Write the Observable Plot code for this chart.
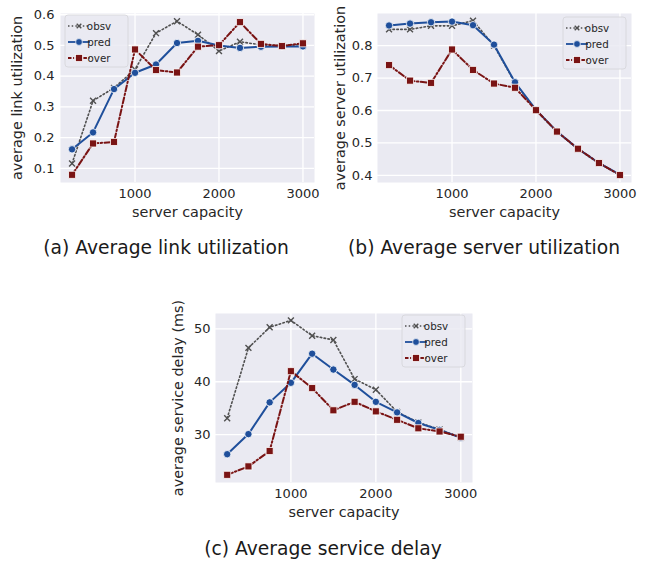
<!DOCTYPE html>
<html><head><meta charset="utf-8">
<script src="https://cdn.jsdelivr.net/npm/d3@7"></script>
<script src="https://cdn.jsdelivr.net/npm/@observablehq/plot@0.6"></script>
<style>
body{margin:0;background:#fff;width:654px;height:566px;position:relative;overflow:hidden;font-family:"DejaVu Sans",sans-serif;}
.panel{position:absolute;}
.panel svg{overflow:visible;}
.cap{position:absolute;font-size:18.7px;color:#1a1a1a;white-space:nowrap;transform:translate(-50%,-50%);}
</style></head><body>
<div id="pa" class="panel" style="left:0px;top:0px"></div>
<div id="pb" class="panel" style="left:320px;top:0px"></div>
<div id="pc" class="panel" style="left:160px;top:300px"></div>
<div class="cap" style="left:166px;top:247px">(a) Average link utilization</div>
<div class="cap" style="left:484px;top:247px">(b) Average server utilization</div>
<div class="cap" style="left:323px;top:548px">(c) Average service delay</div>
<script>
// ---- data ----
const capacity = [250, 500, 750, 1000, 1250, 1500, 1750, 2000, 2250, 2500, 2750, 3000];
const seriesNames = ["obsv", "pred", "over"];

const linkObsv = [0.116, 0.320, 0.362, 0.422, 0.540, 0.579, 0.535, 0.482, 0.512, 0.502, 0.500, 0.503];
const linkPred = [0.162, 0.217, 0.358, 0.411, 0.438, 0.508, 0.515, 0.500, 0.492, 0.496, 0.497, 0.497];
const linkOver = [0.079, 0.181, 0.186, 0.487, 0.420, 0.412, 0.496, 0.501, 0.576, 0.505, 0.498, 0.507];

const srvObsv = [0.850, 0.850, 0.861, 0.861, 0.877, 0.800, 0.685, 0.601, 0.534, 0.481, 0.437, 0.401];
const srvPred = [0.862, 0.868, 0.872, 0.874, 0.863, 0.803, 0.687, 0.602, 0.535, 0.482, 0.438, 0.402];
const srvOver = [0.740, 0.692, 0.685, 0.788, 0.725, 0.683, 0.670, 0.601, 0.535, 0.482, 0.438, 0.401];

const delayObsv = [33.1, 46.4, 50.3, 51.6, 48.7, 47.9, 40.5, 38.5, 34.3, 32.3, 31.0, 29.4];
const delayPred = [26.3, 30.1, 36.1, 39.8, 45.3, 42.3, 39.4, 36.2, 34.2, 32.2, 30.9, 29.4];
const delayOver = [22.4, 24.0, 26.9, 42.0, 38.8, 34.6, 36.2, 34.4, 32.8, 31.2, 30.6, 29.6];

const xTicks = [1000, 2000, 3000];
const linkTicks = [0.1, 0.2, 0.3, 0.4, 0.5, 0.6];
const srvTicks = [0.4, 0.5, 0.6, 0.7, 0.8];
const delayTicks = [30, 40, 50];

// ---- styles ----
const COL = {obsv: "#505050", pred: "#1f4f9b", over: "#7a1414"};
const BG = "#eaeaf2";
const TXT = "#262626";

function rows(vals) { return capacity.map((x, i) => ({x, y: vals[i]})); }

function makeChart(o) {
  const [obsv, pred, over] = o.series.map(rows);
  const svg = Plot.plot({
    width: o.width, height: 230,
    marginLeft: o.ml, marginRight: o.mr, marginTop: 13, marginBottom: 48,
    style: {fontFamily: "DejaVu Sans", fontSize: "13px", color: TXT, background: "transparent", overflow: "visible"},
    x: {domain: [112.5, 3137.5]},
    y: {domain: o.yDomain},
    marks: [
      Plot.frame({fill: BG, stroke: null}),
      Plot.gridX(xTicks, {stroke: "white", strokeOpacity: 1, strokeWidth: 1.3}),
      Plot.gridY(o.yTicks, {stroke: "white", strokeOpacity: 1, strokeWidth: 1.3}),
      Plot.axisX(xTicks, {tickSize: 0, tickPadding: 6, tickFormat: d3.format("d"), label: null, fontSize: 13, fill: TXT}),
      Plot.axisY(o.yTicks, {tickSize: 0, tickPadding: o.tp, tickFormat: o.fmt, label: null, fontSize: 13, fill: TXT}),
      Plot.text(["server capacity"], {frameAnchor: "bottom", dy: 30, lineAnchor: "middle", textAnchor: "middle", fontSize: 14.4, fill: TXT}),
      Plot.text([o.ylabel], {frameAnchor: "left", dx: -o.ylOff, rotate: -90, lineAnchor: "middle", textAnchor: "middle", fontSize: 14.4, fill: TXT}),
      Plot.line(obsv, {x: "x", y: "y", stroke: COL.obsv, strokeWidth: 1.6, strokeDasharray: "1.5,2.4"}),
      Plot.dot(obsv, {x: "x", y: "y", symbol: "times", r: 2.8, stroke: COL.obsv, strokeWidth: 1.4}),
      Plot.line(pred, {x: "x", y: "y", stroke: COL.pred, strokeWidth: 2}),
      Plot.dot(pred, {x: "x", y: "y", symbol: "circle", r: 3.7, fill: COL.pred, stroke: "white", strokeWidth: 0.8}),
      Plot.line(over, {x: "x", y: "y", stroke: COL.over, strokeWidth: 2, strokeDasharray: "6,2.4,1.5,2.4"}),
      Plot.dot(over, {x: "x", y: "y", symbol: "square", r: 4, fill: COL.over, stroke: "white", strokeWidth: 0.8})
    ]
  });
  // legend
  const g = d3.select(svg).append("g").attr("transform", `translate(${o.lx},${o.ly})`);
  g.append("rect").attr("x", 0).attr("y", 0).attr("width", 63).attr("height", 52).attr("rx", 3)
    .attr("fill", BG).attr("fill-opacity", 0.85).attr("stroke", "#d4d4d8").attr("stroke-width", 0.8);
  seriesNames.forEach((name, i) => {
    const yy = 11 + i * 16;
    const dash = name === "obsv" ? "1.5,2.2" : name === "over" ? "3.5,1.6,1,1.6" : null;
    const line = g.append("line").attr("x1", 3).attr("x2", 25).attr("y1", yy).attr("y2", yy)
      .attr("stroke", COL[name]).attr("stroke-width", name === "obsv" ? 1.3 : 1.8);
    if (dash) line.attr("stroke-dasharray", dash);
    if (name === "obsv") {
      const s = 2.3;
      g.append("path").attr("d", `M${14 - s},${yy - s}L${14 + s},${yy + s}M${14 - s},${yy + s}L${14 + s},${yy - s}`)
        .attr("stroke", COL.obsv).attr("stroke-width", 1.4);
    } else if (name === "pred") {
      g.append("circle").attr("cx", 14).attr("cy", yy).attr("r", 3.4).attr("fill", COL.pred).attr("stroke", "white").attr("stroke-width", 0.7);
    } else {
      g.append("rect").attr("x", 10.6).attr("y", yy - 3.4).attr("width", 6.8).attr("height", 6.8).attr("fill", COL.over).attr("stroke", "white").attr("stroke-width", 0.7);
    }
    g.append("text").attr("x", 34).attr("y", yy).attr("dy", "0.35em").attr("font-size", 10.3)
      .attr("fill", TXT).attr("font-family", "DejaVu Sans").text(name);
  });
  document.getElementById(o.id).appendChild(svg);
}

makeChart({id: "pa", width: 330, ml: 60, mr: 16, yDomain: [0.054, 0.604], yTicks: linkTicks, fmt: d3.format(".1f"),
  tp: 6, ylabel: "average link utilization", ylOff: 43, series: [linkObsv, linkPred, linkOver], lx: 65, ly: 15});
makeChart({id: "pb", width: 334, ml: 57, mr: 23, yDomain: [0.378, 0.899], yTicks: srvTicks, fmt: d3.format(".1f"),
  tp: 5, ylabel: "average server utilization", ylOff: 37, series: [srvObsv, srvPred, srvOver], lx: 243, ly: 17});
makeChart({id: "pc", width: 330, ml: 55, mr: 18, yDomain: [20.95, 52.9], yTicks: delayTicks, fmt: d3.format("d"),
  tp: 5, ylabel: "average service delay (ms)", ylOff: 37, series: [delayObsv, delayPred, delayOver], lx: 242, ly: 15});
</script>
</body></html>
